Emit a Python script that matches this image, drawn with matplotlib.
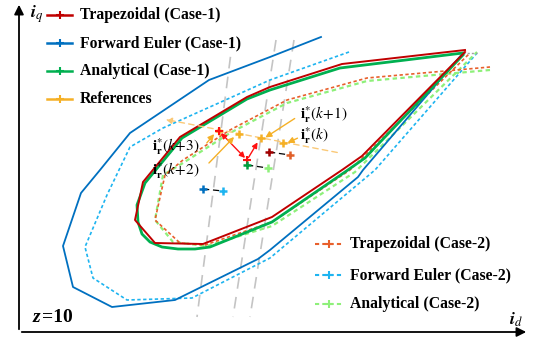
import numpy as np
import matplotlib.pyplot as plt

plt.rcParams['mathtext.fontset'] = 'stix'
plt.rcParams['font.family'] = 'Liberation Serif'

# trajectories in the (id, iq) plane, screen units (iq grows downward here)
fe1_id = [321, 270, 209, 130, 100, 81, 63, 73, 112, 175, 258, 270, 358, 363, 463]
fe1_iq = [37, 57, 80, 133, 170, 193, 246, 287, 307, 300, 259, 250, 177, 170, 53]

fe2_id = [349, 270, 163, 130, 107, 85, 93, 127, 192, 270, 375, 477]
fe2_iq = [52, 80, 128, 147, 195, 247, 278, 300, 298, 258, 170, 53]

tr1_id = [465, 342, 270, 247, 180, 143, 135, 155, 203, 272, 342, 362, 465]
tr1_iq = [50, 64, 87, 97, 137, 182, 220, 243, 244, 217, 170, 156, 52]

an1_id = [463, 340, 270, 247, 182, 145, 137, 138, 142, 150, 162, 178, 195, 210, 272, 345, 365, 463]
an1_iq = [53, 68, 90, 99, 138, 183, 205, 222, 234, 242, 247, 249, 249, 247, 222, 172, 158, 55]

tr2_id = [490, 367, 287, 230, 183, 165, 155, 180, 205, 272, 350, 470]
tr2_iq = [67, 78, 100, 130, 160, 175, 220, 243, 245, 222, 170, 53]

an2_id = [490, 367, 287, 230, 183, 163, 155, 173, 207, 272, 355, 477]
an2_iq = [70, 81, 103, 133, 163, 175, 220, 242, 246, 226, 172, 52]

# reference points i_r*(k) ... i_r*(k+3)
ref_id = [283, 261, 239, 219]
ref_iq = [143, 138, 134, 131]
ref_labels = [r'$\mathbf{i}_{\mathbf{r}}^{*}(k)$', r'$\mathbf{i}_{\mathbf{r}}^{*}(k\!+\!1)$',
              r'$\mathbf{i}_{\mathbf{r}}^{*}(k\!+\!2)$', r'$\mathbf{i}_{\mathbf{r}}^{*}(k\!+\!3)$']
ref_label_pos = [(300, 136), (300, 115), (152, 171), (152, 147)]
ref_arrow_tail = [(300, 137), (297, 117), (207, 165), (205, 145)]

# predicted points, case-1 vs case-2 pairs
pairs = [((269, 152), (290, 155), '#A00000', '#E0602A'),
         ((247, 165), (268, 168), '#00A040', '#8EF07A'),
         ((203, 189), (223, 191), '#0070C0', '#1EB4F0')]

# switching boundaries
bound_top = [(233, 37), (276, 40), (294, 40)]
bound_bot = [(197, 317), (233, 317), (250, 317)]

c_red, c_blue, c_green, c_ref = '#C00000', '#0070C0', '#00B050', '#F5B026'
c_tr2, c_fe2, c_an2 = '#E8602C', '#1EB4F0', '#8EF07A'

fig = plt.figure(figsize=(5.35, 3.4), dpi=100)
ax = fig.add_axes([0, 0, 1, 1])
ax.set_xlim(0, 535)
ax.set_ylim(340, 0)
ax.axis('off')

for (x0, y0), (x1, y1) in zip(bound_top, bound_bot):
    ax.plot([x0, x1], [y0, y1], color='#C4C4C4', lw=1.2, dashes=(7, 5), zorder=1)

ax.plot(fe2_id, fe2_iq, color=c_fe2, lw=1.2, ls=(0, (2, 1.5)), zorder=2)
ax.plot(an2_id, an2_iq, color=c_an2, lw=1.6, ls=(0, (2, 1.5)), zorder=2)
ax.plot(tr2_id, tr2_iq, color=c_tr2, lw=1.2, ls=(0, (2, 1.5)), zorder=2)
ax.plot([463, 477], [53, 53], color='#A0A0A0', lw=1, ls=(0, (1.5, 1.5)), zorder=2)
ax.plot(fe1_id, fe1_iq, color=c_blue, lw=1.3, zorder=3)
ax.plot(an1_id, an1_iq, color=c_green, lw=2.0, zorder=3)
ax.plot(tr1_id, tr1_iq, color=c_red, lw=1.4, zorder=4)

# reference trajectory
ax.annotate('', xy=(163, 119), xytext=(340, 153),
            arrowprops=dict(arrowstyle='-|>', color='#FAC978', lw=1, ls=(0, (4, 3)),
                            mutation_scale=9), zorder=5)
ax.plot(ref_id, ref_iq, ls='none', marker='+', ms=6, mew=1.8, color=c_ref, zorder=6)

# predicted moves
ax.annotate('', xy=(ref_id[3], ref_iq[3]), xytext=(247, 160),
            arrowprops=dict(arrowstyle='<|-|>', color='#FF1010', lw=1, mutation_scale=8), zorder=6)
ax.annotate('', xy=(ref_id[1] - 2, ref_iq[1] + 2), xytext=(247, 160),
            arrowprops=dict(arrowstyle='-|>', color='#FF1010', lw=1, mutation_scale=8), zorder=6)
ax.plot([ref_id[3], 247], [ref_iq[3], 160], ls='none', marker='+', ms=6, mew=1.5, color='#FF1010', zorder=7)

for (p1, p2, c1, c2) in pairs:
    ax.plot([p1[0], p2[0]], [p1[1], p2[1]], color='black', lw=0.9, dashes=(5, 3), zorder=6)
    ax.plot(*p1, marker='+', ms=6, mew=1.8, color=c1, zorder=7)
    ax.plot(*p2, marker='+', ms=6, mew=1.8, color=c2, zorder=7)

for lab, (tx, ty), (ax0, ay0), x, y in zip(ref_labels, ref_label_pos, ref_arrow_tail, ref_id, ref_iq):
    ax.text(tx, ty, lab, fontsize=11, va='center', ha='left', zorder=8)
    ax.annotate('', xy=(x - 3 if tx < x else x + 2, y + 1), xytext=(ax0, ay0),
                arrowprops=dict(arrowstyle='-|>', color=c_ref, lw=1, mutation_scale=9), zorder=8)

# axes arrows
ax.annotate('', xy=(19, 2), xytext=(19, 332),
            arrowprops=dict(arrowstyle='-|>', color='black', lw=1.3, mutation_scale=14))
ax.annotate('', xy=(529, 332), xytext=(19, 332),
            arrowprops=dict(arrowstyle='-|>', color='black', lw=1.3, mutation_scale=14))
ax.text(30, 14, r'$\mathbfit{i}_{q}$', fontsize=13, va='center')
ax.text(509, 320, r'$\mathbfit{i}_{d}$', fontsize=13, va='center')
ax.text(33, 318, 'z', fontsize=14, fontweight='bold', style='italic', va='center')
ax.text(42, 318, '=10', fontsize=14, fontweight='bold', va='center')

# legends
leg1 = [('Trapezoidal (Case-1)', c_red, '-'), ('Forward Euler (Case-1)', c_blue, '-'),
        ('Analytical (Case-1)', c_green, '-'), ('References', c_ref, '-')]
leg1_y = [15, 43, 71, 99]
for (name, c, ls), y in zip(leg1, leg1_y):
    ax.plot([47, 72], [y, y], color=c, lw=1.8, ls=ls)
    ax.plot(59.5, y, marker='+', ms=6, mew=1.5, color=c)
    ax.text(80, y, name, fontsize=11.3, fontweight='bold', va='center')

leg2 = [('Trapezoidal (Case-2)', c_tr2), ('Forward Euler (Case-2)', c_fe2),
        ('Analytical (Case-2)', c_an2)]
leg2_y = [244, 275, 304]
for (name, c), y in zip(leg2, leg2_y):
    ax.plot([315, 342], [y, y], color=c, lw=1.5, ls=(0, (2, 1.5)))
    ax.plot(328.5, y, marker='+', ms=6, mew=1.5, color=c)
    ax.text(350, y, name, fontsize=11.3, fontweight='bold', va='center')

fig.savefig('out.png', dpi=100)
